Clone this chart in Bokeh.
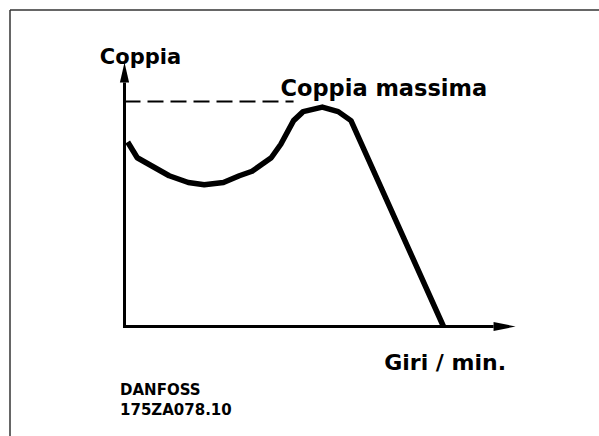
from bokeh.plotting import figure
from bokeh.models import Range1d
from bokeh.embed import file_html
from bokeh.resources import INLINE
from bokeh.core.properties import value

# ---- data (speed in % of the zero-torque speed, torque in % of max torque) ----
speed = [1, 4, 9, 14, 20, 25, 31, 36, 40, 46, 49, 53, 56, 62, 67, 71, 100]
torque = [82, 75, 71, 67, 64, 63, 64, 67, 69, 75, 81, 91.5, 95.5, 97.5, 95.5, 91.5, 0]
max_torque = 100
max_line_end = 53          # end of the dashed "max torque" line (speed)
x_axis_end = 122.6         # arrow tip of the speed axis
y_axis_end = 117.3         # arrow tip of the torque axis

y_label = "Coppia"
max_label = "Coppia massima"
x_label = "Giri / min."
credit = ["DANFOSS", "175ZA078.10"]

# ---- layout ----
W, H = 599, 436
kx, ky = 3.19, 2.25                      # px per data unit
x0 = -124 / kx
y0 = -(H - 326) / ky
xr = Range1d(x0, x0 + W / kx)
yr = Range1d(y0, y0 + H / ky)

p = figure(width=W, height=H, x_range=xr, y_range=yr, output_backend="svg",
           toolbar_location=None, min_border=0, x_axis_location=None,
           y_axis_location=None, outline_line_color=None,
           background_fill_color="white", border_fill_color="white")
p.grid.visible = False

# page frame (top & left edges visible)
bx = xr.start + 9.5 / kx
by = yr.end - 9.5 / ky
p.segment(x0=[bx, bx], y0=[yr.start, by], x1=[bx, xr.end], y1=[by, by],
          line_color="#333333", line_width=1.5)

# axes
p.line([0, 0], [-0.7, y_axis_end - 8.9], line_color="black", line_width=3)
p.line([0, x_axis_end - 6.9], [0, 0], line_color="black", line_width=3)
hw_x = 4.6 / kx
hw_y = 4.6 / ky
p.patch([-hw_x, hw_x, 0], [y_axis_end - 8.9, y_axis_end - 8.9, y_axis_end],
        color="black", line_width=0)
p.patch([x_axis_end - 6.9, x_axis_end - 6.9, x_axis_end], [-hw_y, hw_y, 0],
        color="black", line_width=0)

# max torque dashed line
p.line([0, max_line_end], [max_torque, max_torque], line_color="black",
       line_width=2, line_dash="16 7")

# torque curve
p.line(speed, torque, line_color="black", line_width=5.5, line_join="round")

font = value("DejaVu Sans")
p.text(x=[5.0], y=[120], text=[y_label], text_font=font, text_font_size="21px",
       text_font_style="bold", text_align="center", text_baseline="alphabetic")
p.text(x=[81.3], y=[106.2], text=[max_label], text_font=font, text_font_size="22.5px",
       text_font_style="bold", text_align="center", text_baseline="alphabetic")
p.text(x=[100.5], y=[-16], text=[x_label], text_font=font, text_font_size="22px",
       text_font_style="bold", text_align="center", text_baseline="alphabetic")
p.text(x=[-1.4, -1.4], y=[-28.4, -36.9], text=credit, text_font=font,
       text_font_size="15px", text_font_style="bold", text_align="left",
       text_baseline="alphabetic")

open("out.html", "w").write(file_html(p, INLINE))
